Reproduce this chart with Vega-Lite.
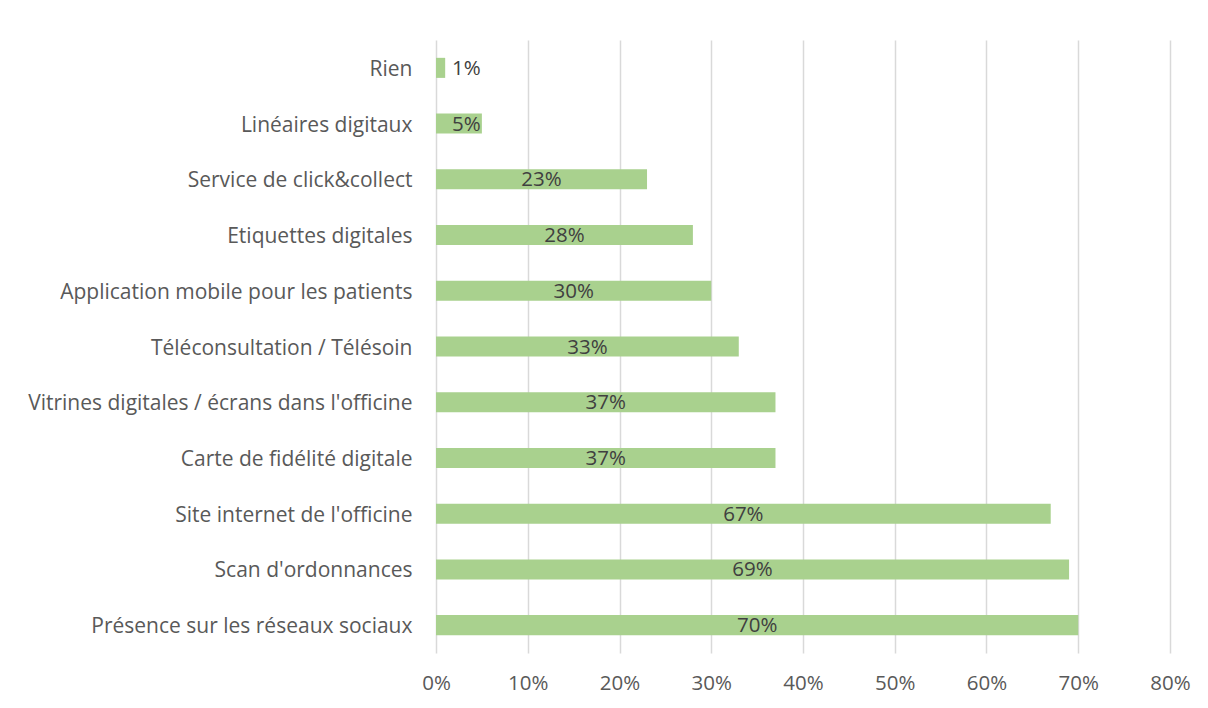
{
  "$schema": "https://vega.github.io/schema/vega-lite/v6.json",
  "width": 734,
  "height": 613,
  "autosize": {"type": "none"},
  "padding": {"left": 436, "top": 40, "right": 38, "bottom": 55},
  "background": "white",
  "config": {
    "view": {"stroke": null},
    "font": "Open Sans"
  },
  "data": {
    "values": [
      {"item": "Rien", "v": 0.01},
      {"item": "Linéaires digitaux", "v": 0.05},
      {"item": "Service de click&collect", "v": 0.23},
      {"item": "Etiquettes digitales", "v": 0.28},
      {"item": "Application mobile pour les patients", "v": 0.30},
      {"item": "Téléconsultation / Télésoin", "v": 0.33},
      {"item": "Vitrines digitales / écrans dans l'officine", "v": 0.37},
      {"item": "Carte de fidélité digitale", "v": 0.37},
      {"item": "Site internet de l'officine", "v": 0.67},
      {"item": "Scan d'ordonnances", "v": 0.69},
      {"item": "Présence sur les réseaux sociaux", "v": 0.70}
    ]
  },
  "encoding": {
    "y": {
      "field": "item",
      "type": "nominal",
      "sort": null,
      "scale": {"paddingInner": 0.64, "paddingOuter": 0.32},
      "axis": {
        "title": null,
        "domain": false,
        "ticks": false,
        "labelFontSize": 21,
        "labelColor": "#595959",
        "labelPadding": 24,
        "labelOffset": 2,
        "labelLimit": 500
      }
    }
  },
  "layer": [
    {
      "mark": {"type": "bar", "color": "#A9D18E"},
      "encoding": {
        "x": {
          "field": "v",
          "type": "quantitative",
          "scale": {"domain": [0, 0.8], "nice": false},
          "axis": {
            "title": null,
            "values": [0, 0.1, 0.2, 0.3, 0.4, 0.5, 0.6, 0.7, 0.8],
            "format": ".0%",
            "labelFlush": false,
            "domain": false,
            "ticks": false,
            "grid": true,
            "gridColor": "#D9D9D9",
            "gridWidth": 1.5,
            "labelFontSize": 20.5,
            "labelColor": "#595959",
            "labelPadding": 20
          }
        }
      }
    },
    {
      "transform": [{"calculate": "max(datum.v / 2, 0.033)", "as": "mid"}],
      "mark": {"type": "text", "fontSize": 20.5, "color": "#404040", "align": "center", "baseline": "middle", "dy": 1},
      "encoding": {
        "x": {"field": "mid", "type": "quantitative"},
        "text": {"field": "v", "type": "quantitative", "format": ".0%"}
      }
    }
  ]
}
